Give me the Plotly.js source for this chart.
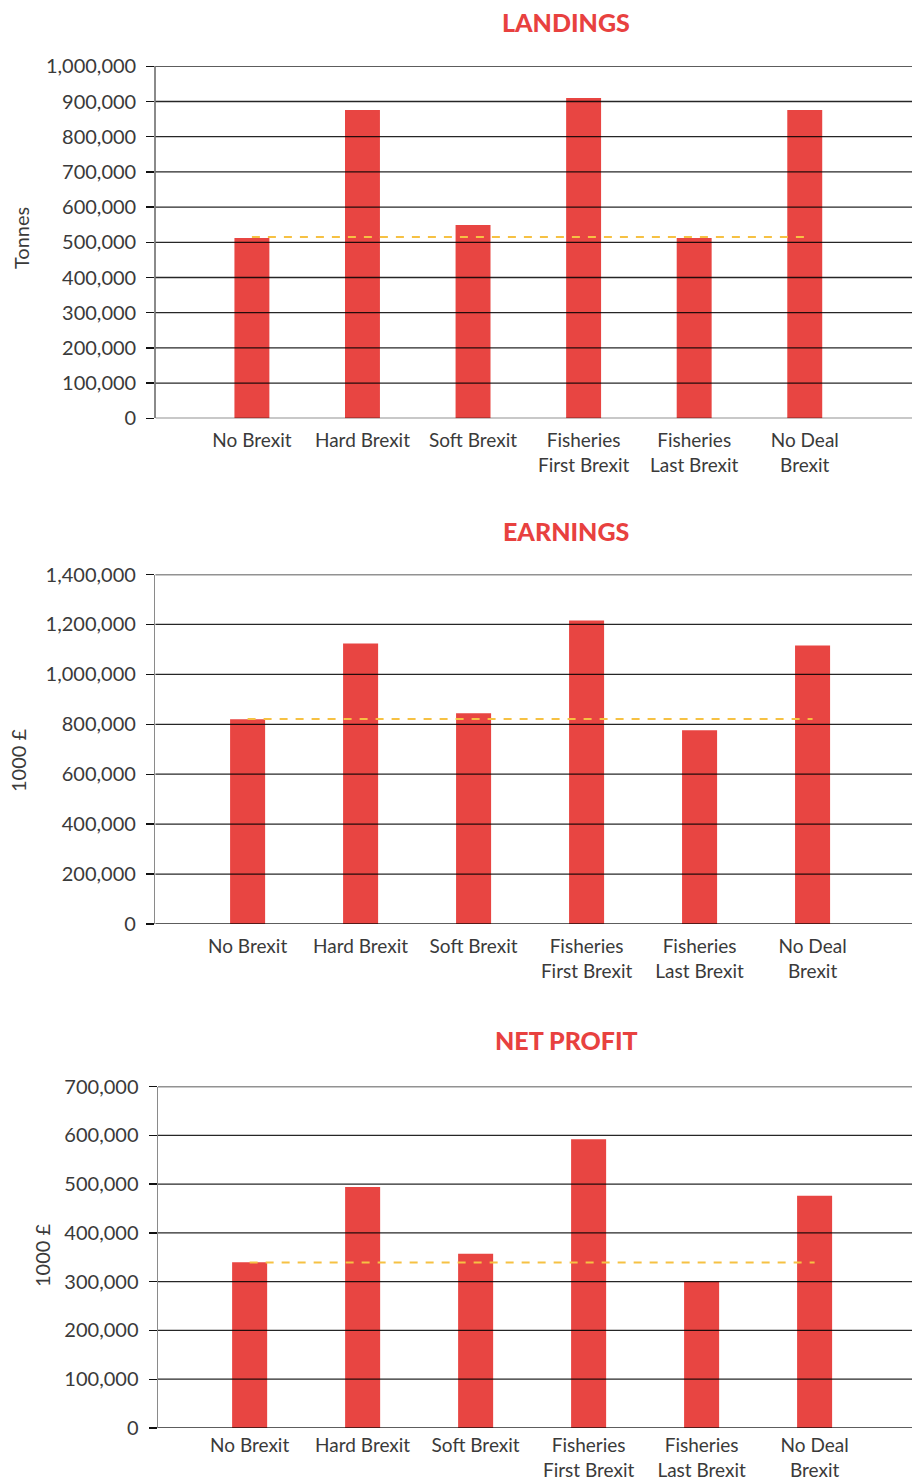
<!DOCTYPE html>
<html>
<head>
<meta charset="utf-8">
<script src="https://cdn.plot.ly/plotly-3.0.1.min.js"></script>
<style>
  html, body { margin: 0; padding: 0; background: #fff; }
  #chart { width: 912px; height: 1482px; }
</style>
</head>
<body>
<div id="chart"></div>
<script>
// ---- data ----
const categories = ["No Brexit", "Hard Brexit", "Soft Brexit", "Fisheries<br>First Brexit", "Fisheries<br>Last Brexit", "No Deal<br>Brexit"];
const landings = [512000, 876000, 549000, 910000, 512000, 876000];
const earnings = [820000, 1124000, 844000, 1216000, 776000, 1116000];
const netProfit = [340000, 494000, 357000, 592000, 301000, 476000];
const baselineLandings = 515000;
const baselineEarnings = 821000;
const baselineNetProfit = 339000;
const chartTitles = ["LANDINGS", "EARNINGS", "NET PROFIT"];
const yTitles = ["Tonnes", "1000 £", "1000 £"];
const yMax = [1000000, 1400000, 700000];
const yStep = [100000, 200000, 100000];

// ---- styling ----
const BAR = "#E84542";
const TITLE_RED = "#E8413F";
const DASH = "#F6C143";
const TEXT = "#3a3a3a";
const FONT = "Lato, 'Open Sans', sans-serif";
const H = 1482, W = 912;

const panels = [
  { values: landings, base: baselineLandings, yTop: 66.3, yBottom: 418.3, xLeft: 155.7, xr: [-0.87, 5.97], bw: 0.316,
    titleY: 22, ytX: 21, ytY: 238, xStand: 9 },
  { values: earnings, base: baselineEarnings, yTop: 574.5, yBottom: 924, xLeft: 155.4, xr: [-0.816, 5.88], bw: 0.31,
    titleY: 531, ytX: 18, ytY: 760, xStand: 9 },
  { values: netProfit, base: baselineNetProfit, yTop: 1086.5, yBottom: 1428, xLeft: 158, xr: [-0.811, 5.862], bw: 0.31,
    titleY: 1040, ytX: 42, ytY: 1255, xStand: 4 }
];

const traces = [];
const layout = {
  width: W, height: H,
  margin: { l: 0, r: 0, t: 0, b: 0 },
  paper_bgcolor: "#fff", plot_bgcolor: "#fff",
  showlegend: false,
  font: { family: FONT, color: TEXT, size: 18 },
  annotations: [], shapes: []
};

panels.forEach((p, i) => {
  const n = i === 0 ? "" : String(i + 1);
  const xa = "x" + n, ya = "y" + n;
  traces.push({
    type: "bar", x: categories, y: p.values, xaxis: xa, yaxis: ya,
    marker: { color: BAR }, width: p.bw, hoverinfo: "skip"
  });
  traces.push({
    type: "scatter", mode: "lines", xaxis: xa, yaxis: ya,
    x: [categories[0], categories[categories.length - 1]], y: [p.base, p.base],
    line: { color: DASH, width: 2, dash: "8px,8px" }, hoverinfo: "skip"
  });
  layout["xaxis" + n] = {
    domain: [p.xLeft / W, 1], range: p.xr, anchor: ya, type: "category",
    showgrid: false, zeroline: false, showline: false, ticks: "",
    tickfont: { family: FONT, size: 19, color: TEXT }, automargin: false,
    ticklabelstandoff: p.xStand, fixedrange: true
  };
  layout["yaxis" + n] = {
    domain: [(H - p.yBottom) / H, (H - p.yTop) / H], range: [0, yMax[i]],
    anchor: xa, dtick: yStep[i], tick0: 0, tickformat: ",d",
    showgrid: false, zeroline: false, showline: true, linecolor: "#8a8a8a", linewidth: 1.5,
    ticks: "outside", ticklen: 8, tickcolor: "#111", tickwidth: 1.3,
    tickfont: { family: FONT, size: 20, color: TEXT }, automargin: false,
    ticklabelstandoff: 6, fixedrange: true
  };
  // gridlines above bars
  for (let v = 0; v <= yMax[i]; v += yStep[i]) {
    layout.shapes.push({
      type: "line", layer: "above", xref: xa + " domain", yref: ya,
      x0: 0, x1: 1, y0: v, y1: v,
      line: { color: "rgba(0,0,0,0.85)", width: 1.3 }
    });
  }
  layout.annotations.push({
    text: chartTitles[i], xref: "paper", yref: "paper",
    x: 566 / W, y: (H - p.titleY) / H, xanchor: "center", yanchor: "middle",
    showarrow: false, font: { family: FONT, size: 25, color: TITLE_RED, weight: 900 }
  });
  layout.annotations.push({
    text: yTitles[i], xref: "paper", yref: "paper", textangle: -90,
    x: p.ytX / W, y: (H - p.ytY) / H, xanchor: "center", yanchor: "middle",
    showarrow: false, font: { family: FONT, size: 20, color: TEXT }
  });
});

Plotly.newPlot("chart", traces, layout, { displayModeBar: false, staticPlot: true });
</script>
</body>
</html>
